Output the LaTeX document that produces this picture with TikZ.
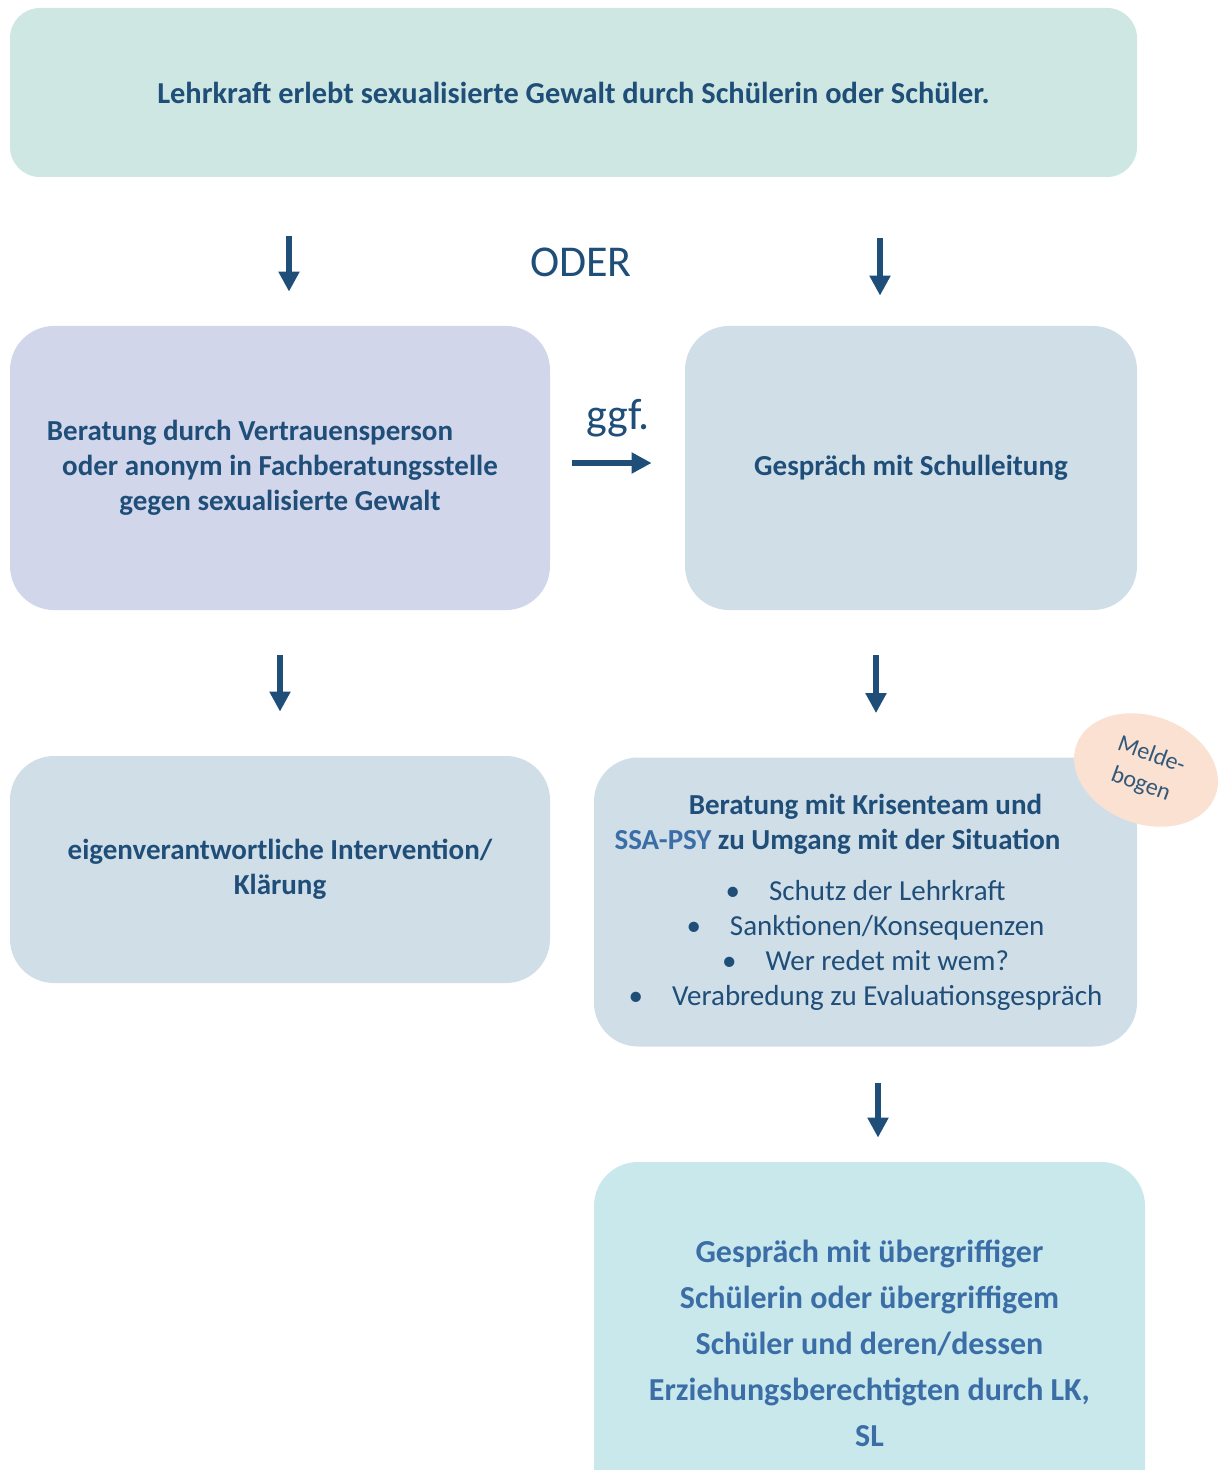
\documentclass[tikz,border=0pt]{standalone}
\usepackage{fontspec}
\setmainfont{Carlito}
\usetikzlibrary{arrows.meta,shapes.geometric}
\definecolor{dunkelblau}{HTML}{1F4E79}
\definecolor{mittelblau}{HTML}{3B6EA7}
\definecolor{mint}{HTML}{CFE7E3}
\definecolor{lavendel}{HTML}{D2D6EB}
\definecolor{graublau}{HTML}{D0DEE8}
\definecolor{eisblau}{HTML}{C9E8EC}
\definecolor{pfirsich}{HTML}{FAE1D2}
\begin{document}
\begin{tikzpicture}[x=0.5pt, y=-0.5pt,
    kasten/.style={rounded corners=22pt, fill=graublau, text=dunkelblau, align=center, inner sep=0pt,
      font=\bfseries\fontsize{14.5}{17.5}\selectfont},
    pfeil/.style={-{Triangle[width=10pt,length=10pt]}, line width=2.6pt, draw=dunkelblau}]
    \useasboundingbox (0,0) rectangle (1219,1470);
    % Kaesten
    \node[kasten, fill=mint, rounded corners=15pt, minimum width=563.5pt, minimum height=84.5pt,
      font=\bfseries\fontsize{15.2}{17}\selectfont] (start) at (573.5,92.5)
      {Lehrkraft erlebt sexualisierte Gewalt durch Schülerin oder Schüler.};
    \node[kasten, fill=lavendel, minimum width=270pt, minimum height=142pt] (beratung) at (280,468)
      {Beratung durch Vertrauensperson\hspace*{30pt}\\oder anonym in Fachberatungsstelle\\gegen sexualisierte Gewalt};
    \node[kasten, minimum width=226pt, minimum height=142pt] (schulleitung) at (911,468)
      {Gespräch mit Schulleitung};
    \node[kasten, minimum width=270pt, minimum height=113.5pt] (klaerung) at (280,869.5)
      {eigenverantwortliche Intervention/\\Klärung};
    \node[kasten, minimum width=271.5pt, minimum height=144.5pt] (krisenteam) at (865.5,902)
      {Beratung mit Krisenteam und\\{\color{mittelblau}SSA-PSY} zu Umgang mit der Situation\hspace*{28pt}\mbox{}\\[8pt]
       \mdseries\textbullet\quad Schutz der Lehrkraft\\
       \mdseries\textbullet\quad Sanktionen/Konsequenzen\\
       \mdseries\textbullet\quad Wer redet mit wem?\\
       \mdseries\textbullet\quad Verabredung zu Evaluationsgespräch};
    \node[kasten, fill=eisblau, text=mittelblau, minimum width=275.5pt, minimum height=181pt,
      font=\bfseries\fontsize{16}{23}\selectfont] (gespraech) at (869.5,1343)
      {Gespräch mit übergriffiger\\Schülerin oder übergriffigem\\Schüler und deren/dessen\\Erziehungsberechtigten durch LK,\\SL};
    \node[ellipse, fill=pfirsich, minimum width=74pt, minimum height=54pt, rotate=-20, inner sep=0pt,
      text=dunkelblau!80!gray, align=center, font=\fontsize{12}{15.5}\selectfont] (melde) at (1146,770)
      {Melde-\\bogen};
    % Beschriftungen
    \node[text=dunkelblau, font=\fontsize{22}{24}\selectfont] (oder) at (581,262) {ODER};
    \node[text=dunkelblau, font=\fontsize{22}{24}\selectfont] (ggf) at (618,418) {ggf.};
    % Pfeile
    \draw[pfeil, shorten <=29.5pt, shorten >=17pt] ([xshift=4.5pt]beratung.north |- start.south) -- ([xshift=4.5pt]beratung.north);
    \draw[pfeil, shorten <=30.5pt, shorten >=15pt] ([xshift=-15.5pt]schulleitung.north |- start.south) -- ([xshift=-15.5pt]schulleitung.north);
    \draw[pfeil, shorten <=11pt, shorten >=16.5pt] ([yshift=2.5pt]beratung.east) -- ([yshift=2.5pt]beratung.east -| schulleitung.west);
    \draw[pfeil, shorten <=22.5pt, shorten >=22pt] (beratung.south) -- (klaerung.north);
    \draw[pfeil, shorten <=22.5pt, shorten >=22pt] ([xshift=-17.5pt]schulleitung.south) -- ([xshift=-17.5pt]schulleitung.south |- krisenteam.north);
    \draw[pfeil, shorten <=18pt, shorten >=12pt] ([xshift=6.25pt]krisenteam.south) -- ([xshift=6.25pt]krisenteam.south |- gespraech.north);
\end{tikzpicture}
\end{document}
